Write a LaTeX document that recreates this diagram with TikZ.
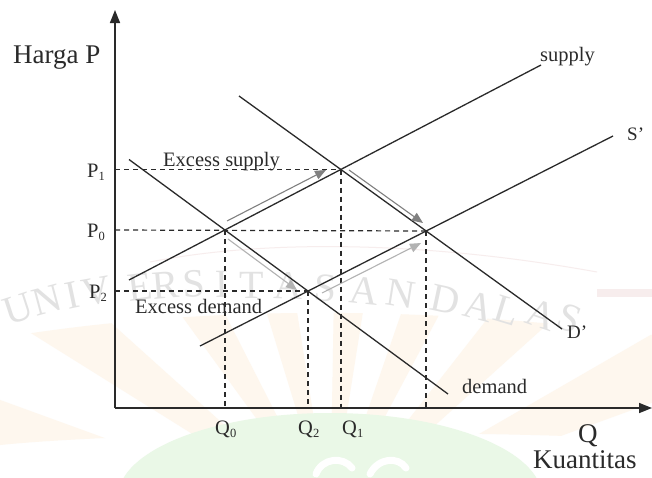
\documentclass[tikz,border=0pt]{standalone}
\usepackage{fontspec}
\setmainfont{Liberation Serif}
\usetikzlibrary{arrows.meta,calc}
\definecolor{wmcream}{RGB}{254,247,238}
\definecolor{wmgreen}{RGB}{234,248,231}
\definecolor{wmpink}{RGB}{247,237,237}
\definecolor{wmgray}{RGB}{226,226,226}
\definecolor{ink}{HTML}{2A2A2A}
\newcommand\dsub[1]{\raisebox{-3.5pt}{\fontsize{12.5}{12.5}\selectfont #1}}
\begin{document}
\begin{tikzpicture}[x=1pt,y=-1pt,
  axisline/.style={line width=1.5pt,draw=ink,-{Triangle[length=13pt,width=10pt]}},
  curveline/.style={line width=1.3pt,draw=ink},
  guide/.style={line width=1.2pt,draw=ink,dash pattern=on 5pt off 4pt},
  mover/.style={line width=1.1pt,draw=black!50,-{Triangle[length=11pt,width=9pt]}},
  moverlight/.style={line width=1.1pt,draw=black!30,-{Triangle[length=11pt,width=9pt]}},
  lbl/.style={inner sep=0pt,anchor=base west,text=ink,font=\fontsize{20.5}{20.5}\selectfont},
  biglbl/.style={inner sep=0pt,anchor=base west,text=ink,font=\fontsize{27}{27}\selectfont},
  wm/.style={inner sep=0pt,text=wmgray,font=\fontsize{40}{40}\selectfont}]
\useasboundingbox (0,0) rectangle (652,477);
\fill[white] (0,0) rectangle (652,477);
% ---- watermark background ----
\begin{scope}
  \clip (0,338) .. controls (200,305) and (420,305) .. (652,335) -- (652,440) .. controls (500,430) and (150,430) .. (0,445) -- cycle;
  \foreach \a/\b in {-80/-70,-58/-48,-36/-27,-17/-9,1/9,19/28,38/48,60/70}
    \fill[wmcream] (330,520) -- ({330+520*sin(\a)},{520-520*cos(\a)}) -- ({330+520*sin(\b)},{520-520*cos(\b)}) -- cycle;
\end{scope}
\fill[wmgreen] (330,497) ellipse [x radius=212, y radius=84];
\draw[white,line width=7pt,line cap=round] (316,474) .. controls (322,458) and (343,456) .. (352,468);
\draw[white,line width=7pt,line cap=round] (370,474) .. controls (378,458) and (398,456) .. (406,468);
\fill[wmpink] (597,289) rectangle (652,297);
\draw[wmpink,line width=1pt] (150,262) .. controls (260,240) and (420,240) .. (597,272);
\foreach \ch/\x/\y/\r in {U/18/309/18,N/47/300/15,I/72/295/12,V/97/291/10,E/140/287/7,R/166/285/5,S/194/284/3,I/222/284/1,T/252/285/0,A/288/286/-2,S/326/288/-4,A/364/291/-6,N/401/294/-9,D/445/300/-12,A/479/306/-15,L/507/311/-17,A/541/315/-19,S/570/318/-21}
  \node[wm,rotate=\r] at (\x,\y) {\ch};
% ---- coordinates ----
\coordinate (O) at (115,408);
\coordinate (Ytop) at (115,10);
\coordinate (Xend) at (652,408);
\coordinate (E0) at (225,230);
\coordinate (E1) at (341,169.5);
\coordinate (E2) at (308,291);
\coordinate (Ep) at (426,231);
\coordinate (sA) at (129,280);
\coordinate (sB) at (541,65);
\coordinate (tA) at (200,346);
\coordinate (tB) at (613,136);
\coordinate (dA) at (129,159.5);
\coordinate (dB) at (448,394);
\coordinate (eA) at (239,96);
\coordinate (eB) at (562,329);
\coordinate (a1s) at (227,221);
\coordinate (a1e) at (326,170);
\coordinate (a2s) at (349,170);
\coordinate (a2e) at (423,223);
\coordinate (a3s) at (228,239);
\coordinate (a3e) at (297,290);
\coordinate (a4s) at (322,293);
\coordinate (a4e) at (421,243);
% ---- dashed guides ----
\draw[guide] (E1 -| O) -- (E1);
\draw[guide] (E0 -| O) -- (Ep);
\draw[guide] (E2 -| O) -- (E2);
\draw[guide] (E0) -- (E0 |- O);
\draw[guide] (E2) -- (E2 |- O);
\draw[guide] (E1) -- (E1 |- O);
\draw[guide] (Ep) -- (Ep |- O);
% ---- curves ----
\draw[curveline] (sA) -- (sB);
\draw[curveline] (tA) -- (tB);
\draw[curveline] (dA) -- (dB);
\draw[curveline] (eA) -- (eB);
% ---- movement arrows ----
\draw[mover] (a1s) -- (a1e);
\draw[mover] (a2s) -- (a2e);
\draw[moverlight] (a3s) -- (a3e);
\draw[moverlight] (a4s) -- (a4e);
% ---- axes ----
\draw[axisline] (O) -- (Ytop);
\draw[axisline] (O) -- (Xend);
% ---- labels ----
\node[biglbl] (harga) at (13,63) {Harga P};
\node[lbl] (lsupply) at (540,61) {supply};
\node[lbl,font=\fontsize{19}{19}\selectfont] (lS) at (627,140) {S’};
\node[lbl] (lexs) at (163,166) {Excess supply};
\node[lbl] (lexd) at (135,313) {Excess demand};
\node[lbl] (ldemand) at (462,393) {demand};
\node[lbl,font=\fontsize{19}{19}\selectfont] (lD) at (567,338) {D’};
\node[biglbl] (lQ) at (578,442) {Q};
\node[biglbl] (lK) at (533,468) {Kuantitas};
\node[lbl] (q0) at (215,434) {Q\dsub{0}};
\node[lbl] (q2) at (298,434) {Q\dsub{2}};
\node[lbl] (q1) at (342,434) {Q\dsub{1}};
\node[lbl] (p1) at (87,177) {P\dsub{1}};
\node[lbl] (p0) at (87,237) {P\dsub{0}};
\node[lbl] (p2) at (89,298) {P\dsub{2}};
\end{tikzpicture}
\end{document}
